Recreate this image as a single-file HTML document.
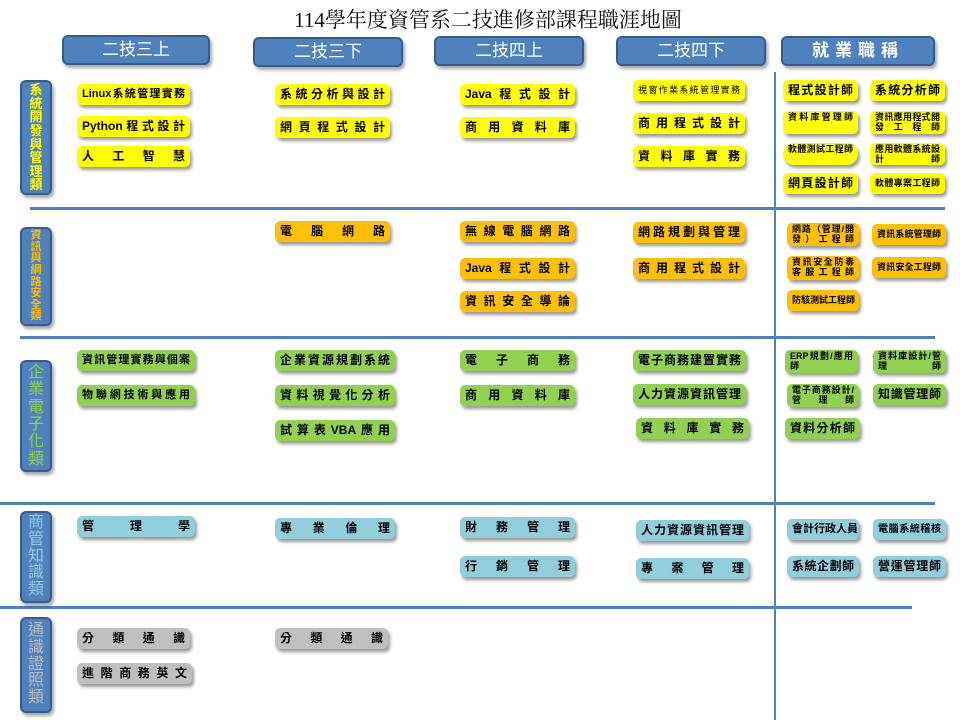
<!DOCTYPE html>
<html><head><meta charset="utf-8"><style>
*{margin:0;padding:0;box-sizing:border-box}
body{width:960px;height:720px;background:#fff;position:relative;overflow:hidden;font-family:"Liberation Sans","Noto Sans CJK TC",sans-serif}
.t{position:absolute;left:283px;top:4px;width:410px;text-align:center;font-family:"Liberation Serif","Noto Serif CJK SC",serif;font-size:21px;color:#111;white-space:nowrap}
.h{position:absolute;height:30px;background:#4f81bd;border:2px solid #385d8a;border-radius:6px;color:#fff;font-size:17px;text-align:center;line-height:26px;box-shadow:2px 3px 3px rgba(0,0,0,.35)}
.c{position:absolute;left:20px;width:32px;background:#4f81bd;border:2px solid #385d8a;border-radius:6px;font-weight:bold;text-align:center;box-shadow:2px 3px 3px rgba(0,0,0,.35);display:flex;flex-direction:column;justify-content:center;align-items:center;line-height:1.05;overflow:hidden}
.b{position:absolute;height:21px;padding:0 5px;font-weight:bold;font-size:12px;line-height:21px;color:#000;border-radius:5px;box-shadow:2px 3px 3px rgba(0,0,0,.4);text-align:justify;text-align-last:justify;white-space:nowrap;overflow:hidden}
.m{font-size:9px;line-height:10px;padding-top:1px;white-space:normal}
.y{background:#ffff00}.o{background:#ffc000}.g{background:#92d050}.l{background:#92cddc}.s{background:#bfbfbf}
.hl{position:absolute;height:3px;background:#4f81bd}
.vl{position:absolute;left:774px;top:72px;width:2px;height:648px;background:#4f81bd}
</style></head><body>
<div class="t">114學年度資管系二技進修部課程職涯地圖</div>
<div class="h" style="left:62px;top:35px;width:148px">二技三上</div>
<div class="h" style="left:253px;top:37px;width:150px">二技三下</div>
<div class="h" style="left:434px;top:36px;width:150px">二技四上</div>
<div class="h" style="left:616px;top:36px;width:150px">二技四下</div>
<div class="h" style="left:781px;top:36px;width:154px;font-weight:bold;letter-spacing:6px">就業職稱</div>

<div class="hl" style="left:30px;top:207px;width:915px"></div>
<div class="hl" style="left:20px;top:336px;width:915px"></div>
<div class="hl" style="left:0;top:502px;width:935px"></div>
<div class="hl" style="left:0;top:606px;width:912px"></div>
<div class="vl"></div>

<div class="c" style="top:80px;height:115px;color:#ffff00;font-size:13px">系<br>統<br>開<br>發<br>與<br>管<br>理<br>類</div>
<div class="c" style="top:227px;height:99px;color:#ffc000;font-size:11px">資<br>訊<br>與<br>網<br>路<br>安<br>全<br>類</div>
<div class="c" style="top:360px;height:112px;color:#92d050;font-size:16px;line-height:1.08;font-weight:normal">企<br>業<br>電<br>子<br>化<br>類</div>
<div class="c" style="top:511px;height:92px;color:#92cddc;font-size:16px;font-weight:normal">商<br>管<br>知<br>識<br>類</div>
<div class="c" style="top:617px;height:96px;color:#bfbfbf;font-size:16px;font-weight:normal">通<br>識<br>證<br>照<br>類</div>

<!-- cat1 -->
<div class="b y" style="left:77px;top:84px;width:113px;font-size:11px">Linux系統管理實務</div>
<div class="b y" style="left:77px;top:116px;width:113px">Python程式設計</div>
<div class="b y" style="left:77px;top:146px;width:113px">人工智慧</div>
<div class="b y" style="left:275px;top:84px;width:115px">系統分析與設計</div>
<div class="b y" style="left:275px;top:117px;width:115px">網頁程式設計</div>
<div class="b y" style="left:460px;top:84px;width:115px">Java程式設計</div>
<div class="b y" style="left:460px;top:117px;width:115px">商用資料庫</div>
<div class="b y" style="left:633px;top:80px;width:112px;font-size:9px;font-weight:normal">視窗作業系統管理實務</div>
<div class="b y" style="left:633px;top:113px;width:112px">商用程式設計</div>
<div class="b y" style="left:633px;top:146px;width:112px">資料庫實務</div>
<div class="b y" style="left:783px;top:80px;width:75px">程式設計師</div>
<div class="b y" style="left:870px;top:80px;width:75px">系統分析師</div>
<div class="b y m" style="left:783px;top:111px;width:75px;height:23px">資料庫管理師</div>
<div class="b y m" style="left:870px;top:111px;width:75px;height:23px">資訊應用程式開發工程師</div>
<div class="b y m" style="left:783px;top:143px;width:75px;height:22px;border-radius:11px">軟體測試工程師</div>
<div class="b y m" style="left:870px;top:143px;width:75px;height:22px">應用軟體系統設計師</div>
<div class="b y" style="left:783px;top:173px;width:75px">網頁設計師</div>
<div class="b y" style="left:870px;top:173px;width:75px;font-size:9px">軟體專案工程師</div>
<!-- cat2 -->
<div class="b o" style="left:275px;top:221px;width:115px">電腦網路</div>
<div class="b o" style="left:460px;top:221px;width:115px">無線電腦網路</div>
<div class="b o" style="left:460px;top:258px;width:115px">Java程式設計</div>
<div class="b o" style="left:460px;top:291px;width:115px">資訊安全導論</div>
<div class="b o" style="left:633px;top:222px;width:112px">網路規劃與管理</div>
<div class="b o" style="left:633px;top:258px;width:112px">商用程式設計</div>
<div class="b o m" style="left:787px;top:223px;width:72px;height:23px">網路（管理/開發）工程師</div>
<div class="b o" style="left:872px;top:224px;width:74px;font-size:9px">資訊系統管理師</div>
<div class="b o m" style="left:787px;top:256px;width:72px;height:24px">資訊安全防毒客服工程師</div>
<div class="b o" style="left:872px;top:257px;width:74px;font-size:9px">資訊安全工程師</div>
<div class="b o" style="left:787px;top:290px;width:72px;font-size:9px">防駭測試工程師</div>
<!-- cat3 -->
<div class="b g" style="left:77px;top:350px;width:118px;font-size:11px">資訊管理實務與個案</div>
<div class="b g" style="left:77px;top:385px;width:118px;font-size:11px">物聯網技術與應用</div>
<div class="b g" style="left:275px;top:350px;width:120px">企業資源規劃系統</div>
<div class="b g" style="left:275px;top:385px;width:120px">資料視覺化分析</div>
<div class="b g" style="left:275px;top:420px;width:120px">試算表VBA應用</div>
<div class="b g" style="left:460px;top:350px;width:115px">電子商務</div>
<div class="b g" style="left:460px;top:385px;width:115px">商用資料庫</div>
<div class="b g" style="left:633px;top:350px;width:113px">電子商務建置實務</div>
<div class="b g" style="left:633px;top:384px;width:113px">人力資源資訊管理</div>
<div class="b g" style="left:636px;top:418px;width:113px">資料庫實務</div>
<div class="b g m" style="left:785px;top:350px;width:73px;height:23px">ERP規劃/應用師</div>
<div class="b g m" style="left:873px;top:350px;width:73px;height:23px">資料庫設計/管理師</div>
<div class="b g m" style="left:787px;top:384px;width:72px;height:23px">電子商務設計/管理師</div>
<div class="b g" style="left:873px;top:384px;width:73px">知識管理師</div>
<div class="b g" style="left:785px;top:418px;width:75px">資料分析師</div>
<!-- cat4 -->
<div class="b l" style="left:77px;top:516px;width:118px">管理學</div>
<div class="b l" style="left:275px;top:518px;width:120px">專業倫理</div>
<div class="b l" style="left:460px;top:517px;width:115px">財務管理</div>
<div class="b l" style="left:460px;top:556px;width:115px">行銷管理</div>
<div class="b l" style="left:636px;top:520px;width:113px">人力資源資訊管理</div>
<div class="b l" style="left:636px;top:558px;width:113px">專案管理</div>
<div class="b l" style="left:787px;top:519px;width:72px;font-size:11px">會計行政人員</div>
<div class="b l" style="left:873px;top:519px;width:73px;font-size:10px">電腦系統稽核</div>
<div class="b l" style="left:787px;top:556px;width:72px">系統企劃師</div>
<div class="b l" style="left:873px;top:556px;width:73px">營運管理師</div>
<!-- cat5 -->
<div class="b s" style="left:77px;top:628px;width:113px">分類通識</div>
<div class="b s" style="left:77px;top:663px;width:115px">進階商務英文</div>
<div class="b s" style="left:275px;top:628px;width:113px">分類通識</div>
</body></html>
